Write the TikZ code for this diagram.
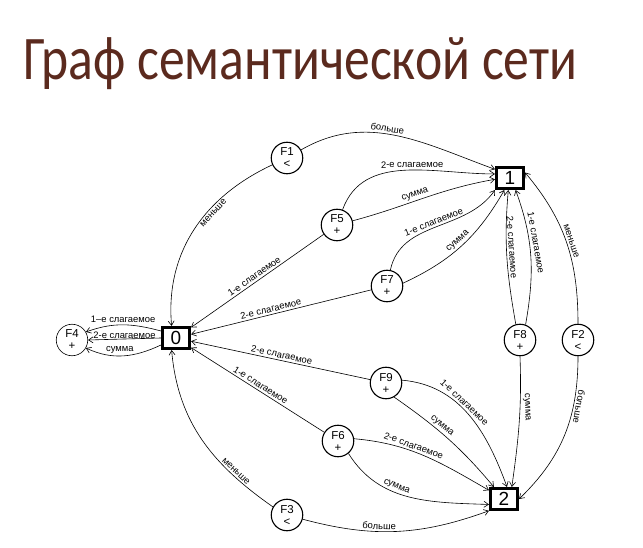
\documentclass[tikz,border=0pt]{standalone}
\usepackage{fontspec}
\setmainfont{Liberation Sans}
\newfontfamily\titlefont{Carlito}
\usetikzlibrary{arrows.meta}
\definecolor{titlebrown}{HTML}{5B2A1E}
\begin{document}
\begin{tikzpicture}[x=1pt,y=1pt,
  fnode/.style={circle, draw, line width=1.1pt, minimum size=31.5pt, inner sep=0pt, align=center, font=\fontsize{11.5}{12}\selectfont},
  numbox/.style={rectangle, draw, line width=2.6pt, minimum width=27.5pt, minimum height=21.5pt, inner sep=0pt, font=\fontsize{19}{19}\selectfont},
  conn/.style={line width=0.6pt, -{Straight Barb[length=4.5pt,width=6pt]}},
  lbl/.style={font=\fontsize{9.4}{9.4}\selectfont, inner sep=2pt},
]
\useasboundingbox (0,0) rectangle (643,547);
\node[anchor=base west, text=titlebrown, inner sep=0pt] (title) at (23,467)
  {\resizebox{554pt}{\height}{\titlefont\fontsize{62}{70}\selectfont Граф семантической сети}};

\node[numbox] (n1) at (510,369) {1};
\node[numbox] (n0) at (176,209) {0};
\node[numbox] (n2) at (504,48) {2};

\node[fnode] (F1) at (287,389) {F1\\<};
\node[fnode] (F5) at (337,322) {F5\\+};
\node[fnode] (F7) at (387,261) {F7\\+};
\node[fnode, line width=0.6pt] (F4) at (72,207) {F4\\+};
\node[fnode] (F8) at (520,207) {F8\\+};
\node[fnode] (F2) at (578,207) {F2\\<};
\node[fnode] (F9) at (386,164) {F9\\+};
\node[fnode] (F6) at (338,106) {F6\\+};
\node[fnode] (F3) at (287,32) {F3\\<};

% F1
\draw[conn] (F1.30) to[out=30, in=160] node[lbl, pos=0.45, sloped, above] {больше} (n1.150);
\draw[conn] (F1.205) to[out=205, in=95] node[lbl, pos=0.37, sloped, below] {меньше} (n0.110);
% F5
\draw[conn] (F5.70) to[out=70, in=180] node[lbl, pos=0.55, sloped, above] {2-е слагаемое} (n1.165);
\draw[conn] (F5.15) to[out=15, in=190] node[lbl, pos=0.45, sloped, above] {сумма} (n1.185);
\draw[conn] (F5) -- node[lbl, pos=0.5, sloped, above] {1-е слагаемое} (n0);
% F7
\draw[conn] (F7.78) to[out=78, in=235] node[lbl, pos=0.5, sloped, above] {1-е слагаемое} (n1.south west);
\draw[conn] (F7.10) to[out=25, in=240] node[lbl, pos=0.5, sloped, above] {сумма} (n1.245);
\draw[conn] (F7) -- node[lbl, pos=0.55, sloped, above] {2-е слагаемое} (n0);
% F4
\draw[conn] (n0.155) to[out=165, in=20] node[lbl, pos=0.5, above] {1–е слагаемое} (F4.30);
\draw[conn] (n0.west) -- node[font=\fontsize{9.4}{9.4}\selectfont, inner sep=0pt, midway, anchor=base] {2-е слагаемое} (F4.east);
\draw[conn] (n0.205) to[out=205, in=-25] node[lbl, pos=0.55, above] {сумма} (F4.-30);
% F8
\draw[conn] (F8.105) to[out=100, in=-95] node[lbl, pos=0.58, rotate=-86, anchor=south] {2-е слагаемое} (n1.262);
\draw[conn] (F8.70) to[out=80, in=-70] node[lbl, inner sep=3pt, pos=0.6, rotate=-80, anchor=south] {1-е слагаемое} (n1.295);
\draw[conn] (F8.south) to[out=-88, in=82] node[lbl, inner sep=3pt, pos=0.38, rotate=-88, anchor=south] {сумма} (n2.57);
% F2
\draw[conn] (F2.north) to[out=90, in=-50] node[lbl, pos=0.5, sloped, above] {меньше} (n1.20);
\draw[conn] (F2.south) to[out=-90, in=44] node[lbl, pos=0.3, rotate=-100, anchor=south] {больше} (n2.east);
% F9
\draw[conn] (F9) -- node[lbl, pos=0.5, sloped, above] {2-е слагаемое} (n0);
\draw[conn] (F9.10) to[out=-5, in=110] node[lbl, pos=0.42, sloped, above] {1-е слагаемое} (n2.76);
\draw[conn] (F9.-60) to[out=-35, in=130] node[lbl, pos=0.4, sloped, above] {сумма} (n2.130);
% F6
\draw[conn] (F6) -- node[lbl, pos=0.5, sloped, above] {1-е слагаемое} (n0);
\draw[conn] (F6.8) to[out=-5, in=150] node[lbl, pos=0.4, sloped, above] {2-е слагаемое} (n2.150);
\draw[conn] (F6.-50) to[out=-58, in=178] node[lbl, pos=0.4, sloped, above] {сумма} (n2.200);
% F3
\draw[conn] (F3.150) to[out=145, in=-85] node[lbl, pos=0.25, sloped, above] {меньше} (n0.250);
\draw[conn] (F3.-15) to[out=-15, in=200] node[lbl, pos=0.4, sloped, above] {больше} (n2.218);
\end{tikzpicture}
\end{document}
